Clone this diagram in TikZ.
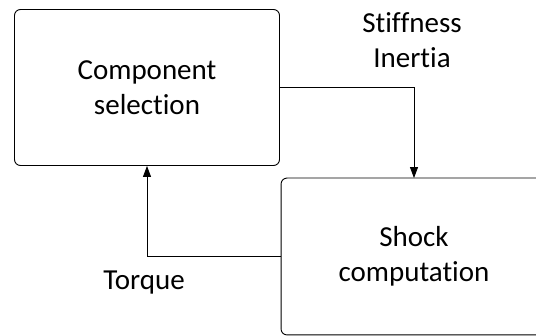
\documentclass[tikz,border=0pt]{standalone}
\usepackage{fontspec}
\setmainfont[Ligatures=NoCommon]{Carlito}
\usetikzlibrary{arrows.meta}
\tikzset{
  block/.style={draw, rounded corners=6pt, line width=0.9pt, align=center,
    minimum width=265pt, minimum height=156pt, inner sep=0pt},
  flow/.style={line width=0.9pt, -{Triangle[length=11pt,width=8pt]}},
  lbl/.style={align=center, inner sep=0pt}
}
\begin{document}
\begin{tikzpicture}[x=1pt,y=-1pt,font=\fontsize{29}{35}\selectfont]
  \useasboundingbox (0,0) rectangle (536,336);
  \node[block] (select) at (147,87.5) {Component\\selection};
  \node[block, draw=none] (shock) at (414,256.5) {Shock\\computation};
  % box runs off the right edge of the page
  \draw[line width=0.9pt, rounded corners=6pt]
    (shock.north east) -- (shock.north west) -- (shock.south west) -- (shock.south east);
  \node[lbl] (stiff) at (412,40) {Stiffness\\Inertia};
  \node[lbl] (torque) at (144,283) {Torque};
  \begin{scope}[flow]
    \draw (select.east) -| (shock.north);
    \draw (shock.west) -| (select.south);
  \end{scope}
\end{tikzpicture}
\end{document}
